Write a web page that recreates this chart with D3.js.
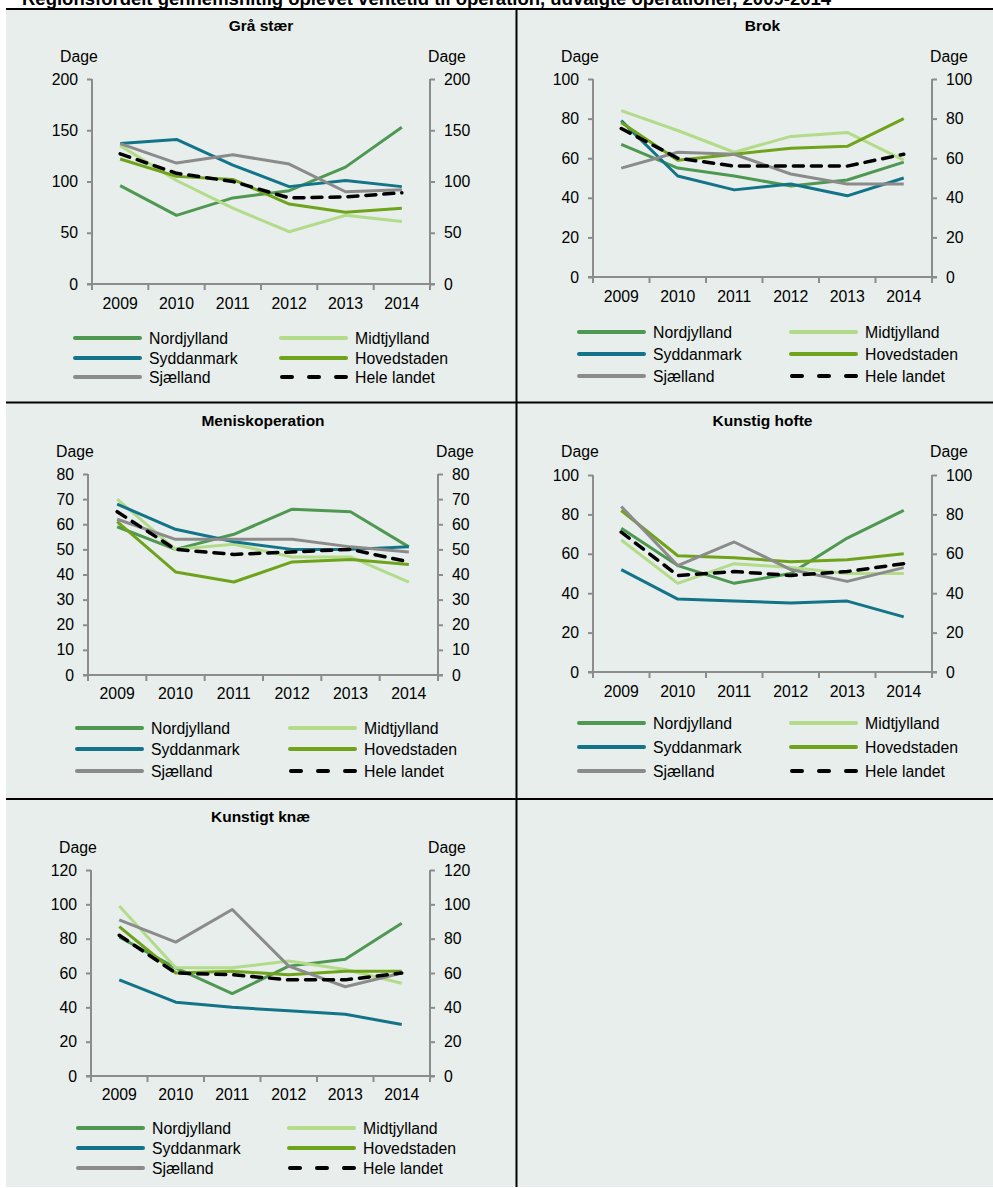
<!DOCTYPE html>
<html><head><meta charset="utf-8">
<script src="https://cdn.jsdelivr.net/npm/d3@7"></script>
<style>body{margin:0;background:#fff}svg{display:block;font-family:"Liberation Sans",Arial,sans-serif}</style>
</head><body><svg id="c" width="993" height="1188"></svg>
<script>
const years = ["2009","2010","2011","2012","2013","2014"];
const regions = ["Nordjylland","Midtjylland","Syddanmark","Hovedstaden","Sjælland","Hele landet"];
const colors = ["#4e9852","#b2db8a","#137489","#6fa31b","#8b8b8b","#000000"];
const panelTitles = ["Grå stær","Brok","Meniskoperation","Kunstig hofte","Kunstigt knæ"];
const yMaxes = [200,100,80,100,120];
const yStepTicks = [[0,50,100,150,200],[0,20,40,60,80,100],[0,10,20,30,40,50,60,70,80],[0,20,40,60,80,100],[0,20,40,60,80,100,120]];

const graaStaer = [
  [96,67,84,91,114,153],
  [135,101,74,51,67,61],
  [137,141,116,95,101,95],
  [122,105,102,78,70,74],
  [137,118,126,117,90,92],
  [127,108,100,84,85,89]
];
const brok = [
  [67,55,51,46,49,58],
  [84,74,63,71,73,59],
  [79,51,44,47,41,50],
  [78,59,62,65,66,80],
  [55,63,62,52,47,47],
  [75,60,56,56,56,62]
];
const menisk = [
  [59,50,56,66,65,51],
  [70,50,52,47,47,37],
  [68,58,53,50,50,51],
  [61,41,37,45,46,44],
  [62,54,54,54,51,49],
  [65,50,48,49,50,45]
];
const hofte = [
  [73,54,45,50,68,82],
  [67,45,55,53,50,50],
  [52,37,36,35,36,28],
  [82,59,58,56,57,60],
  [84,54,66,52,46,53],
  [71,49,51,49,51,55]
];
const knae = [
  [81,63,48,64,68,89],
  [99,63,63,67,62,54],
  [56,43,40,38,36,30],
  [87,60,61,59,61,61],
  [91,78,97,64,52,60],
  [82,60,59,56,56,60]
];
const panelData = [graaStaer, brok, menisk, hofte, knae];

// layout (geometry only)
const layout = [
  {L:92, R:430, T:79, B:284, title:26, dage:56, xl:303, leg:[338,358,377], l1:73, l2:279},
  {L:593, R:932, T:79, B:277, title:26, dage:56, xl:296, leg:[332,354,376], l1:577, l2:789},
  {L:88, R:438, T:474, B:675, title:421, dage:451, xl:693, leg:[728,749,771], l1:75, l2:288},
  {L:593, R:932, T:475, B:672, title:421, dage:451, xl:691, leg:[723,747,771], l1:577, l2:789},
  {L:91, R:430, T:870, B:1076, title:817, dage:847, xl:1094, leg:[1128,1148,1168], l1:76, l2:287}
];

const svg = d3.select("#c");
const bg = "#e8eeeb";
const axisCol = "#8c8c8c";
const fs = 15.8;

svg.append("rect").attr("x",6).attr("y",8).attr("width",987).attr("height",1179).attr("fill",bg);
svg.append("text").attr("x",22).attr("y",5).attr("font-size",18.5).attr("font-weight","bold").attr("fill","#000")
  .text("Regionsfordelt gennemsnitlig oplevet ventetid til operation, udvalgte operationer, 2009-2014");
// grid borders
const bl = svg.append("g").attr("stroke","#000").attr("stroke-width",2);
bl.append("line").attr("x1",6).attr("x2",993).attr("y1",9).attr("y2",9);
bl.append("line").attr("x1",6).attr("x2",993).attr("y1",402.5).attr("y2",402.5);
bl.append("line").attr("x1",6).attr("x2",993).attr("y1",799).attr("y2",799);
bl.append("line").attr("x1",516.5).attr("x2",516.5).attr("y1",8).attr("y2",1187);

layout.forEach((g,pi) => {
  const data = panelData[pi];
  const x = d3.scaleBand().domain(years).range([g.L,g.R]);
  const y = d3.scaleLinear().domain([0,yMaxes[pi]]).range([g.B,g.T]);
  const p = svg.append("g");
  p.append("text").attr("x",(g.L+g.R)/2).attr("y",g.title).attr("dy","0.35em").attr("text-anchor","middle")
    .attr("font-weight","bold").attr("font-size",15.5).text(panelTitles[pi]);
  p.append("text").attr("x",g.L-13).attr("y",g.dage).attr("dy","0.35em").attr("text-anchor","middle").attr("font-size",fs).text("Dage");
  p.append("text").attr("x",g.R+17).attr("y",g.dage).attr("dy","0.35em").attr("text-anchor","middle").attr("font-size",fs).text("Dage");

  const ticks = yStepTicks[pi];
  const left = p.append("g").attr("transform",`translate(${g.L},0)`)
    .call(d3.axisLeft(y).tickValues(ticks).tickSize(5).tickPadding(9).tickFormat(d3.format("d")));
  const right = p.append("g").attr("transform",`translate(${g.R},0)`)
    .call(d3.axisRight(y).tickValues(ticks).tickSize(5).tickPadding(9).tickFormat(d3.format("d")));
  const bottom = p.append("g").attr("transform",`translate(0,${g.B})`)
    .call(d3.axisBottom(x).tickSize(0).tickPadding(g.xl-g.B-5));
  [left,right,bottom].forEach(a => {
    a.selectAll(".domain").remove();
    a.selectAll("line").attr("stroke",axisCol).attr("stroke-width",2);
    a.selectAll("text").attr("font-size",fs).attr("fill","#000").attr("font-family","Liberation Sans, Arial, sans-serif");
  });
  bottom.selectAll("text").attr("dy","0.35em").attr("y",g.xl-g.B);
  // axis lines
  const ax = p.append("g").attr("stroke",axisCol).attr("stroke-width",2).attr("fill","none");
  ax.append("line").attr("x1",g.L).attr("x2",g.L).attr("y1",y(yMaxes[pi])).attr("y2",g.B);
  ax.append("line").attr("x1",g.R).attr("x2",g.R).attr("y1",y(yMaxes[pi])).attr("y2",g.B);
  ax.append("line").attr("x1",g.L-5).attr("x2",g.R+5).attr("y1",g.B).attr("y2",g.B);
  const bounds = years.map(d=>x(d)).concat([g.R]);
  ax.selectAll("line.bt").data(bounds).join("line").attr("class","bt")
    .attr("x1",d=>d).attr("x2",d=>d).attr("y1",g.B).attr("y2",g.B+6);

  const line = d3.line().x((d,i)=>x(years[i])+x.bandwidth()/2).y(d=>y(d));
  data.forEach((s,si) => {
    const path = p.append("path").datum(s).attr("d",line).attr("fill","none")
      .attr("stroke",colors[si]).attr("stroke-width",si===5?3.5:3).attr("stroke-linejoin","round");
    if (si===5) path.attr("stroke-dasharray","10,8").attr("stroke-linecap","round");
  });

  // legend
  regions.forEach((r,si) => {
    const col = si%2, row = Math.floor(si/2);
    const lx = col===0 ? g.l1 : g.l2;
    const ly = g.leg[row];
    const ln = p.append("line").attr("x1",lx+2).attr("x2",lx+67).attr("y1",ly).attr("y2",ly)
      .attr("stroke",colors[si]).attr("stroke-width",4).attr("stroke-linecap","round");
    if (si===5) ln.attr("x1",lx+3).attr("x2",lx+67).attr("stroke-dasharray","10,17");
    p.append("text").attr("x",lx+76).attr("y",ly).attr("dy","0.35em").attr("font-size",fs).text(r);
  });
});
</script></body></html>
